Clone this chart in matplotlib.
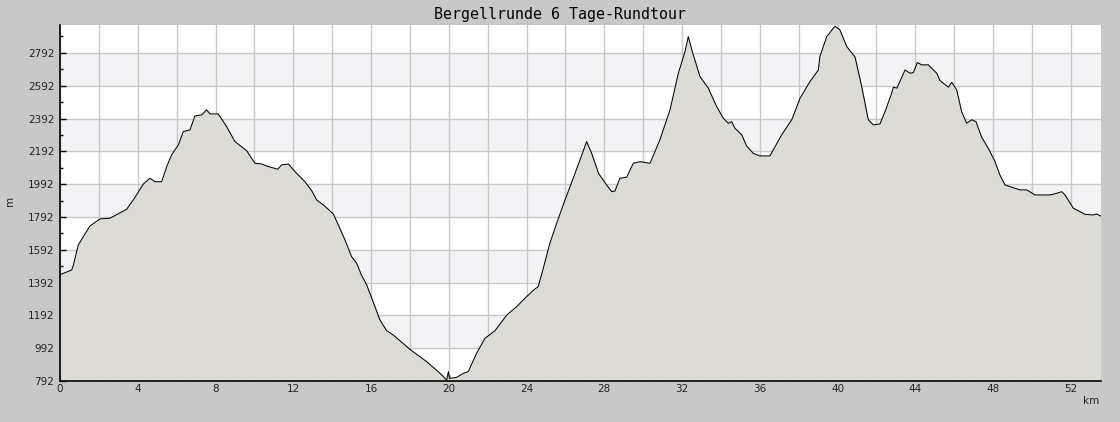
import matplotlib
matplotlib.use("Agg")
import matplotlib.pyplot as plt
from matplotlib.ticker import MultipleLocator, FuncFormatter

# elevation profile (km, m)
km = [0.0, 0.09, 0.6, 0.69, 0.94, 1.2, 1.54, 2.06, 2.57, 3.43, 3.86, 4.29, 4.63,
      4.89, 5.23, 5.49, 5.74, 6.09, 6.34, 6.69, 6.94, 7.29, 7.54, 7.72, 8.14,
      8.57, 9.0, 9.6, 10.03, 10.37, 10.72, 11.2, 11.4, 11.75, 12.09, 12.6,
      12.95, 13.2, 13.55, 14.06, 14.32, 14.66, 15.0, 15.26, 15.5, 15.78, 16.2,
      16.46, 16.8, 17.15, 18.0, 18.86, 19.55, 19.89, 19.98, 20.03, 20.4, 20.75,
      21.0, 21.43, 21.86, 22.38, 22.98, 23.49, 24.0, 24.43, 24.6, 24.86, 25.2,
      25.55, 25.98, 26.4, 26.75, 27.09, 27.35, 27.7, 28.12, 28.38, 28.55, 28.8,
      29.15, 29.49, 29.84, 30.35, 30.86, 31.38, 31.81, 32.15, 32.32, 32.55,
      32.92, 33.35, 33.78, 34.12, 34.38, 34.55, 34.72, 35.07, 35.32, 35.66,
      36.0, 36.52, 37.12, 37.64, 38.07, 38.58, 39.01, 39.09, 39.44, 39.87,
      40.12, 40.47, 40.9, 41.24, 41.58, 41.84, 42.18, 42.44, 42.78, 42.87,
      43.05, 43.47, 43.73, 43.9, 44.1, 44.33, 44.67, 45.1, 45.27, 45.7, 45.87,
      46.13, 46.38, 46.64, 46.9, 47.12, 47.41, 47.75, 48.1, 48.35, 48.61,
      48.87, 49.38, 49.73, 50.15, 50.93, 51.27, 51.53, 51.7, 52.13, 52.73,
      53.15, 53.32, 53.53]
elev = [1443, 1444, 1469, 1499, 1621, 1672, 1737, 1780, 1784, 1839, 1912, 1993,
        2028, 2007, 2007, 2099, 2170, 2231, 2312, 2323, 2408, 2414, 2445, 2420,
        2420, 2343, 2251, 2196, 2119, 2115, 2099, 2083, 2109, 2115, 2068, 2007,
        1952, 1896, 1865, 1810, 1743, 1652, 1550, 1510, 1440, 1377, 1245, 1164,
        1099, 1072, 985, 910, 839, 798, 849, 808, 814, 839, 849, 961, 1052,
        1099, 1194, 1245, 1306, 1353, 1367, 1479, 1632, 1754, 1896, 2028, 2140,
        2251, 2180, 2058, 1987, 1946, 1950, 2028, 2034, 2119, 2129, 2119, 2262,
        2445, 2668, 2800, 2891, 2790, 2648, 2577, 2465, 2394, 2363, 2373, 2333,
        2292, 2225, 2180, 2164, 2164, 2292, 2384, 2516, 2617, 2688, 2770, 2891,
        2955, 2932, 2831, 2766, 2587, 2384, 2353, 2359, 2434, 2546, 2583, 2577,
        2688, 2668, 2672, 2733, 2719, 2719, 2668, 2623, 2583, 2613, 2566, 2434,
        2363, 2384, 2373, 2278, 2211, 2129, 2048, 1987, 1977, 1957, 1957, 1926,
        1926, 1936, 1946, 1926, 1845, 1808, 1804, 1810, 1798]

y_min, y_max = 792, 2962
x_max = 53.55

fig = plt.figure(figsize=(11.2, 4.22), dpi=100, facecolor='#c8c8c8')
ax = fig.add_axes([60/1120, 41/422, 1041/1120, 356/422])
ax.set_facecolor('white')

# alternating bands
for lo in range(992, 2792, 400):
    ax.axhspan(lo, lo + 200, color='#f3f2f5', lw=0, zorder=0)

ax.fill_between(km, elev, y_min, color='#dcdbd6', lw=0, zorder=2)
ax.plot(km, elev, color='black', lw=0.75, zorder=3)

ax.set_xlim(0, x_max)
ax.set_ylim(y_min, y_max)

ax.xaxis.set_major_locator(MultipleLocator(2))
ax.xaxis.set_minor_locator(MultipleLocator(1))
ax.xaxis.set_major_formatter(FuncFormatter(lambda v, p: '%d' % v if int(round(v)) % 4 == 0 else ''))
yt = list(range(792, 2793, 200))
ax.set_yticks(yt)
ax.set_yticks([v + 100 for v in yt], minor=True)

ax.grid(True, which='major', color='#c8c8c8', lw=1, zorder=1)
ax.set_axisbelow(True)

for s in ['top', 'right']:
    ax.spines[s].set_visible(False)
for s in ['left', 'bottom']:
    ax.spines[s].set_color('black')
    ax.spines[s].set_linewidth(1.2)
    ax.spines[s].set_zorder(4)

ax.tick_params(which='major', direction='in', length=4, width=1, color='black',
               labelsize=7.5, labelcolor='#222222')
ax.tick_params(which='minor', direction='in', length=2.5, width=1, color='black')
ax.tick_params(axis='x', pad=2)
ax.tick_params(axis='y', pad=4)

fig.text(0.5, 1 - 14/422, 'Bergellrunde 6 Tage-Rundtour', ha='center', va='center',
         family='DejaVu Sans Mono', fontsize=10.8, color='black')
fig.text(1091/1120, 1 - 401/422, 'km', ha='center', va='center', fontsize=7.5, color='#222222')
fig.text(10/1120, 1 - 201/422, 'm', ha='center', va='center', rotation=90,
         fontsize=7.5, color='#222222')

fig.savefig('out.png', dpi=100, facecolor=fig.get_facecolor())
